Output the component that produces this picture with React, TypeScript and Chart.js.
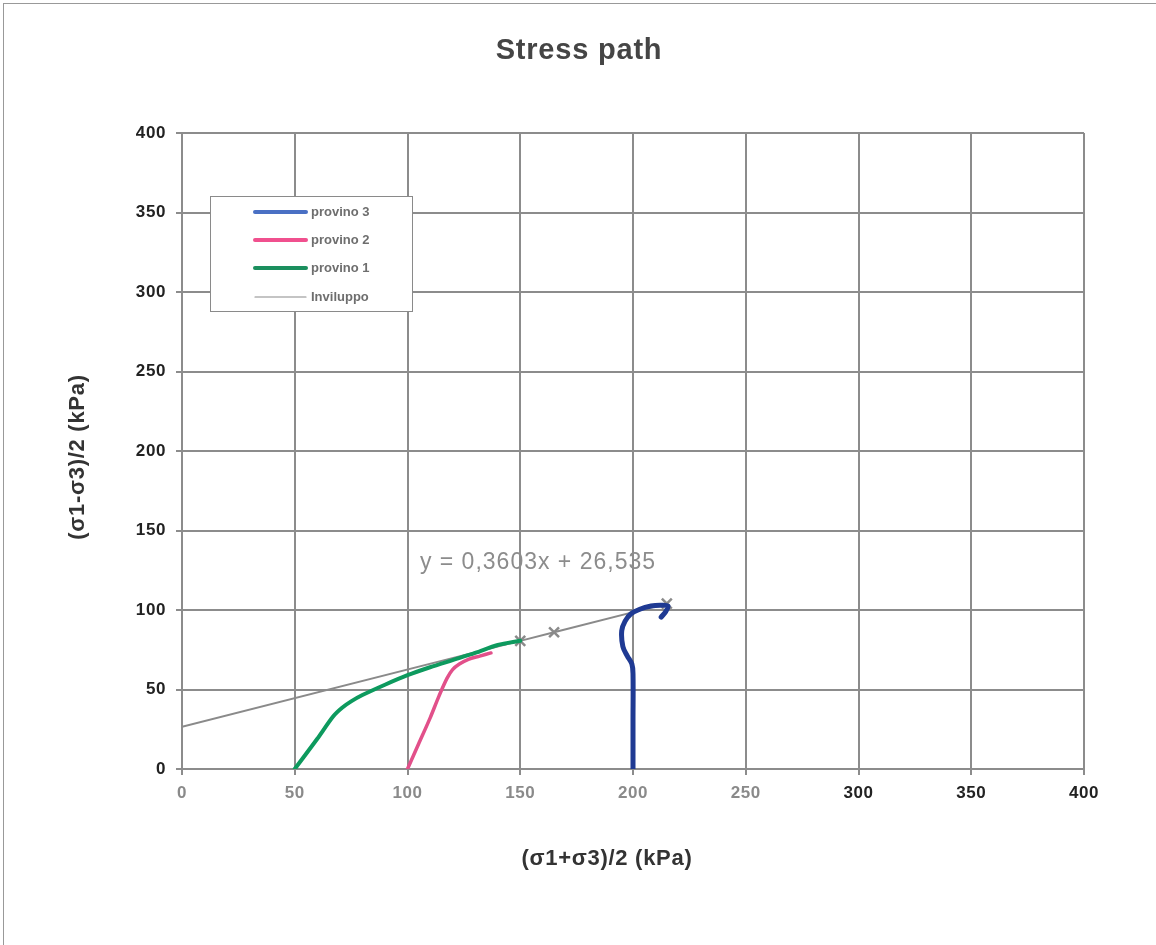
import React, { useEffect, useRef } from "react";
import { Chart, registerables } from "chart.js";

Chart.register(...registerables);

const chartTitle = "Stress path";
const xAxisTitle = "(σ1+σ3)/2 (kPa)";
const yAxisTitle = "(σ1-σ3)/2 (kPa)";
const equationText = "y = 0,3603x + 26,535";
const equationPos = [105.5, 130];

const provino3X = [200, 200, 200, 199.5, 197.5, 195.5, 195, 196.5, 199, 203, 208, 212, 215.5, 214.5, 212.5];
const provino3Y = [0, 30, 60, 66, 71, 77, 87, 93, 97.5, 100.5, 102.5, 103, 102.5, 99, 95.5];

const provino2X = [100, 105, 110, 114, 117.5, 120, 123, 127, 132, 137];
const provino2Y = [0, 16, 32, 46, 57, 62.5, 66, 69, 71, 73];

const provino1X = [50, 60, 67, 71, 75, 80, 90, 100, 110, 120, 130, 140, 150];
const provino1Y = [0, 19, 33, 38.5, 42.5, 46.5, 53, 59, 64, 68.5, 73, 78, 80.7];

const inviluppoX = [0, 150, 165, 215];
const inviluppoY = [26.5, 80.6, 86, 104];
const inviluppoMarkers = [0, 7, 7, 7];

const xTickValues = [0, 50, 100, 150, 200, 250, 300, 350, 400];
const yTickValues = [0, 50, 100, 150, 200, 250, 300, 350, 400];

const toPoints = (xs: number[], ys: number[]) => xs.map((x, i) => ({ x, y: ys[i] }));

const FONT = "'Liberation Sans', Arial, sans-serif";

const legendColors: Record<string, string> = {
  "provino 3": "#4a70c4",
  "provino 2": "#f0508e",
  "provino 1": "#1b8f5e",
  "Inviluppo": "#8a8a8a",
};

const decorPlugin = {
  id: "decor",
  beforeDraw(chart: any) {
    (chart.ctx as any).letterSpacing = "0.6px";
  },
  afterDraw(chart: any) {
    const ctx = chart.ctx as any;
    const xs = chart.scales.x;
    const ys = chart.scales.y;
    ctx.save();
    // Title
    ctx.letterSpacing = "0.8px";
    ctx.fillStyle = "#454545";
    ctx.font = `bold 29px ${FONT}`;
    ctx.textAlign = "center";
    ctx.textBaseline = "middle";
    ctx.fillText(chartTitle, 579, 51);
    // X axis title
    ctx.letterSpacing = "0.7px";
    ctx.fillStyle = "#333";
    ctx.font = `bold 22px ${FONT}`;
    ctx.fillText(xAxisTitle, 607, 859);
    // Y axis title
    ctx.save();
    ctx.translate(78, 457);
    ctx.rotate(-Math.PI / 2);
    ctx.font = `bold 22px ${FONT}`;
    ctx.fillText(yAxisTitle, 0, 0);
    ctx.restore();
    // Equation
    ctx.letterSpacing = "1px";
    ctx.fillStyle = "#8c8c8c";
    ctx.font = `23px ${FONT}`;
    ctx.textAlign = "left";
    ctx.fillText(equationText, xs.getPixelForValue(equationPos[0]), ys.getPixelForValue(equationPos[1]));
    // Legend
    ctx.letterSpacing = "0px";
    const bx = 210, by = 196, bw = 202, bh = 115;
    ctx.fillStyle = "#fff";
    ctx.fillRect(bx, by, bw, bh);
    ctx.strokeStyle = "#8a8a8a";
    ctx.lineWidth = 1;
    ctx.strokeRect(bx + 0.5, by + 0.5, bw, bh);
    const rows = [212, 240, 268, 297];
    chart.data.datasets.forEach((ds: any, i: number) => {
      const y = rows[i];
      ctx.strokeStyle = legendColors[ds.label] || ds.borderColor;
      ctx.lineWidth = ds.label === "Inviluppo" ? 1.2 : 4;
      ctx.lineCap = "round";
      ctx.beginPath();
      ctx.moveTo(255, y);
      ctx.lineTo(306, y);
      ctx.stroke();
      ctx.fillStyle = "#6e6e6e";
      ctx.font = `bold 13px ${FONT}`;
      ctx.textAlign = "left";
      ctx.textBaseline = "middle";
      ctx.fillText(ds.label, 311, y);
    });
    ctx.restore();
    ctx.letterSpacing = "0px";
  },
};

export default function App() {
  const ref = useRef<HTMLCanvasElement | null>(null);
  useEffect(() => {
    document.body.style.margin = "0";
    const canvas = ref.current;
    if (!canvas) return;
    const chart = new Chart(canvas, {
      type: "scatter",
      data: {
        datasets: [
          {
            label: "provino 3",
            data: toPoints(provino3X, provino3Y),
            showLine: true,
            borderColor: "#1f3a93",
            borderWidth: 5,
            pointRadius: 0,
            tension: 0.35,
            borderCapStyle: "round",
            borderJoinStyle: "round",
          },
          {
            label: "provino 2",
            data: toPoints(provino2X, provino2Y),
            showLine: true,
            borderColor: "#e2508a",
            borderWidth: 3.5,
            pointRadius: 0,
            tension: 0.3,
            borderCapStyle: "round",
          },
          {
            label: "provino 1",
            data: toPoints(provino1X, provino1Y),
            showLine: true,
            borderColor: "#0d9a5e",
            borderWidth: 4,
            pointRadius: 0,
            tension: 0.3,
            borderCapStyle: "round",
          },
          {
            label: "Inviluppo",
            data: toPoints(inviluppoX, inviluppoY),
            showLine: true,
            borderColor: "#8a8a8a",
            borderWidth: 2,
            pointStyle: "crossRot",
            pointRadius: inviluppoMarkers,
            pointBorderColor: "#8a8a8a",
            pointBorderWidth: 2.5,
            pointBackgroundColor: "#8a8a8a",
          },
        ],
      },
      options: {
        responsive: false,
        animation: false,
        layout: { padding: { top: 133, right: 72, bottom: 0, left: 0 } },
        plugins: {
          legend: { display: false },
          title: { display: false },
          tooltip: { enabled: false },
        },
        scales: {
          x: {
            type: "linear",
            min: 0,
            max: 400,
            afterBuildTicks: (s: any) => {
              s.ticks = xTickValues.map((v) => ({ value: v }));
            },
            afterFit: (s: any) => {
              s.height = 176;
            },
            grid: { color: "#8c8c8c", lineWidth: 2, tickLength: 6 },
            border: { color: "#8c8c8c", width: 2 },
            ticks: {
              padding: 8,
              font: { family: FONT, size: 17, weight: "bold" },
              color: (c: any) => (c.tick && c.tick.value >= 300 ? "#222" : "#8a8a8a"),
            },
          },
          y: {
            type: "linear",
            min: 0,
            max: 400,
            afterBuildTicks: (s: any) => {
              s.ticks = yTickValues.map((v) => ({ value: v }));
            },
            afterFit: (s: any) => {
              s.width = 182;
            },
            grid: { color: "#8c8c8c", lineWidth: 2, tickLength: 6 },
            border: { color: "#8c8c8c", width: 2 },
            ticks: {
              padding: 10,
              font: { family: FONT, size: 17, weight: "bold" },
              color: "#222",
            },
          },
        },
      },
      plugins: [decorPlugin],
    } as any);
    return () => chart.destroy();
  }, []);
  return (
    <div style={{ position: "relative", width: 1156, height: 945, background: "#fff", overflow: "hidden" }}>
      <canvas ref={ref} width={1156} height={945} style={{ display: "block" }} />
      <div
        style={{
          position: "absolute",
          left: 3,
          top: 3,
          width: 1152,
          height: 941,
          borderTop: "1px solid #999",
          borderLeft: "1px solid #999",
          pointerEvents: "none",
        }}
      />
    </div>
  );
}
